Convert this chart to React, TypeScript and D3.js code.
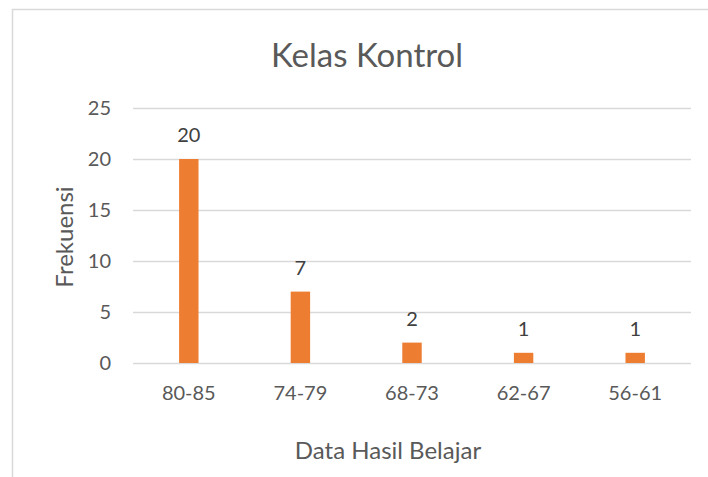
import { useEffect, useRef } from 'react'
import * as d3 from 'd3'

const categories = ['80-85', '74-79', '68-73', '62-67', '56-61']
const frekuensi = [20, 7, 2, 1, 1]
const yTicks = [0, 5, 10, 15, 20, 25]

export default function App() {
  const ref = useRef<SVGSVGElement>(null)

  useEffect(() => {
    document.body.style.margin = '0'
    if (!ref.current) return
    const width = 708
    const height = 477
    const margin = { top: 108, right: 17, bottom: 114, left: 133 }
    const innerW = width - margin.left - margin.right
    const innerH = height - margin.top - margin.bottom
    const font = 'Lato, "Open Sans", sans-serif'
    const textColor = '#595959'

    const svg = d3.select(ref.current)
    svg.selectAll('*').remove()

    // chart frame, cut off at the right and bottom like the source image
    svg.append('rect')
      .attr('x', 12.5).attr('y', 9.5)
      .attr('width', width).attr('height', height)
      .attr('fill', '#fff').attr('stroke', '#d9d9d9').attr('stroke-width', 1.5)

    svg.append('text')
      .attr('x', 367).attr('y', 67)
      .attr('text-anchor', 'middle')
      .attr('fill', textColor).attr('font-size', '33px').attr('font-family', font)
      .text('Kelas Kontrol')

    const g = svg.append('g').attr('transform', `translate(${margin.left},${margin.top})`)

    const x = d3.scaleBand().domain(categories).range([0, innerW]).paddingInner(0.826).paddingOuter(0.413)
    const y = d3.scaleLinear().domain([0, 25]).range([innerH, 0])

    g.append('g')
      .selectAll('line')
      .data(yTicks)
      .join('line')
      .attr('x1', 0).attr('x2', innerW)
      .attr('y1', (d) => y(d) + 0.5).attr('y2', (d) => y(d) + 0.5)
      .attr('stroke', '#d9d9d9').attr('stroke-width', 1.3)

    g.append('g')
      .selectAll('text')
      .data(yTicks)
      .join('text')
      .attr('x', -22).attr('y', (d) => y(d))
      .attr('dy', '0.36em')
      .attr('text-anchor', 'end')
      .attr('fill', textColor).attr('font-size', '20px').attr('font-family', font)
      .text((d) => d)

    g.selectAll('rect.bar')
      .data(frekuensi)
      .join('rect')
      .attr('class', 'bar')
      .attr('x', (_, i) => x(categories[i])!)
      .attr('width', x.bandwidth())
      .attr('y', (d) => y(d))
      .attr('height', (d) => innerH - y(d))
      .attr('fill', '#ed7d31')

    g.selectAll('text.val')
      .data(frekuensi)
      .join('text')
      .attr('class', 'val')
      .attr('x', (_, i) => x(categories[i])! + x.bandwidth() / 2)
      .attr('y', (d) => y(d) - 17)
      .attr('text-anchor', 'middle')
      .attr('fill', '#404040').attr('font-size', '20px').attr('font-family', font)
      .text((d) => d)

    g.selectAll('text.cat')
      .data(categories)
      .join('text')
      .attr('class', 'cat')
      .attr('x', (d) => x(d)! + x.bandwidth() / 2)
      .attr('y', innerH + 37)
      .attr('text-anchor', 'middle')
      .attr('fill', textColor).attr('font-size', '20px').attr('font-family', font)
      .text((d) => d)

    svg.append('text')
      .attr('x', 388).attr('y', 459)
      .attr('text-anchor', 'middle')
      .attr('fill', textColor).attr('font-size', '24px').attr('font-family', font)
      .text('Data Hasil Belajar')

    svg.append('text')
      .attr('transform', 'translate(73,237) rotate(-90)')
      .attr('text-anchor', 'middle')
      .attr('fill', textColor).attr('font-size', '24px').attr('font-family', font)
      .text('Frekuensi')
  }, [])

  return <svg ref={ref} width={708} height={477} style={{ display: 'block' }} />
}
